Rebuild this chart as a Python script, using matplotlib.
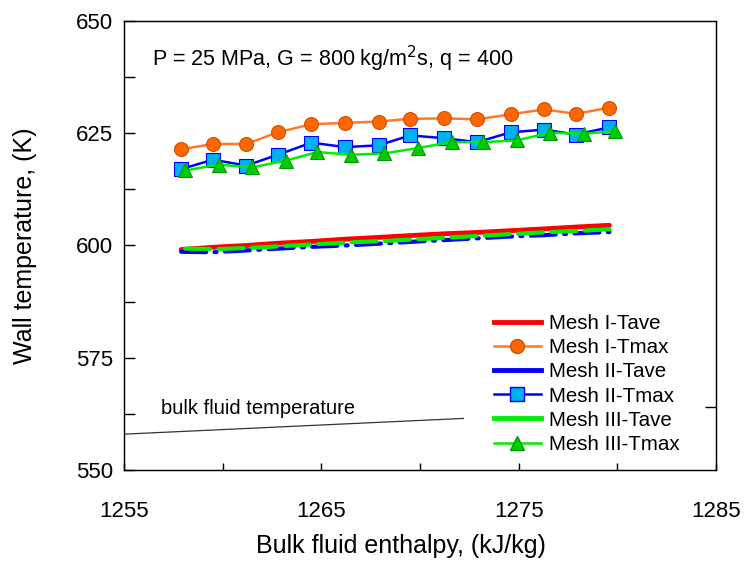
import matplotlib.pyplot as plt
from matplotlib.lines import Line2D
from matplotlib.ticker import MultipleLocator
import numpy as np

plt.rcParams['font.family'] = ['Liberation Sans', 'DejaVu Sans']

# enthalpy positions (kJ/kg)
h_circ = [1257.9, 1259.5, 1261.2, 1262.8, 1264.5, 1266.2, 1267.9, 1269.5, 1271.2, 1272.9, 1274.6, 1276.3, 1277.9, 1279.6]
h_tri = [1258.1, 1259.8, 1261.5, 1263.2, 1264.8, 1266.5, 1268.2, 1269.9, 1271.6, 1273.2, 1274.9, 1276.6, 1278.3, 1279.9]

# wall temperatures (K)
mesh1_tave = [599.1, 599.6, 600.0, 600.5, 600.9, 601.4, 601.8, 602.2, 602.6, 602.9, 603.3, 603.7, 604.1, 604.5]
mesh1_tmax = [621.4, 622.6, 622.6, 625.2, 627.0, 627.3, 627.6, 628.2, 628.3, 628.1, 629.2, 630.3, 629.3, 630.7]
mesh2_tave = [598.6, 598.5, 598.9, 599.3, 599.7, 600.0, 600.4, 600.8, 601.2, 601.6, 602.0, 602.3, 602.7, 603.0]
mesh2_tmax = [617.0, 619.1, 617.8, 620.2, 622.9, 621.9, 622.3, 624.5, 623.9, 623.0, 625.2, 625.8, 624.7, 626.3]
mesh3_tave = [599.3, 599.2, 599.5, 599.9, 600.3, 600.7, 601.0, 601.4, 601.8, 602.2, 602.6, 603.0, 603.3, 603.7]
mesh3_tmax = [616.7, 618.0, 617.4, 618.9, 620.8, 620.2, 620.5, 621.7, 623.0, 623.0, 623.4, 625.1, 624.9, 625.4]

bulk_h = [1255.0, 1272.2]
bulk_t = [558.0, 561.5]

fig = plt.figure(figsize=(7.45, 5.65), dpi=100)
ax = fig.add_axes([0.1664, 0.168, 0.7946, 0.795])

orange = '#FF7A28'
ax.plot(bulk_h, bulk_t, color='#333333', lw=0.9)
ax.plot(h_circ, mesh1_tave, color='#FF0000', lw=3.5, solid_capstyle='round')
ax.plot(h_circ, mesh2_tave, color='#0000FF', lw=3.0, dashes=(6, 2, 0.5, 2), dash_capstyle='round')
ax.plot(h_tri, mesh3_tave, color='#00EE00', lw=3.0, dashes=(6, 2), dash_capstyle='round')
ax.plot(h_circ, mesh1_tmax, color=orange, lw=1.8, marker='o', ms=10,
        mfc='#FF6600', mec='#CC5200', mew=0.8)
ax.plot(h_circ, mesh2_tmax, color='#0000FF', lw=1.8, marker='s', ms=9.5,
        mfc='#00B0F0', mec='#0000FF', mew=0.8)
ax.plot(h_tri, mesh3_tmax, color='#00EE00', lw=1.8, marker='^', ms=10.5,
        mfc='#00CC00', mec='#009900', mew=0.8)

ax.set_xlim(1255, 1285)
ax.set_ylim(550, 650)
ax.set_xticks([1255, 1265, 1275, 1285])
ax.xaxis.set_minor_locator(MultipleLocator(5))
ax.set_yticks([550, 575, 600, 625, 650])
ax.yaxis.set_minor_locator(MultipleLocator(12.5))
ax.tick_params(axis='x', which='both', direction='in', length=5, width=1, pad=22, labelsize=16)
ax.tick_params(axis='y', which='both', direction='in', length=8, width=1, pad=8, labelsize=16)
for s in ax.spines.values():
    s.set_linewidth(1.0)
    s.set_color('#222222')

ax2 = ax.twinx()
ax2.set_ylim(550, 650)
ax2.set_yticks([564])
ax2.set_yticklabels([])
ax2.tick_params(axis='y', direction='in', length=8, width=1)

ax.set_xlabel('Bulk fluid enthalpy, (kJ/kg)', fontsize=18)
ax.set_ylabel('Wall temperature, (K)', fontsize=18)
ax.xaxis.set_label_coords(0.468, -0.143)
ax.yaxis.set_label_coords(-0.147, 0.5)

ax.text(1256.4, 641.5, 'P = 25 MPa, G = 800 kg/m$^2$s, q = 400', fontsize=15.5, va='center')
ax.text(1256.9, 563.8, 'bulk fluid temperature', fontsize=14.5, va='center')

handles = [
    Line2D([], [], color='#FF0000', lw=3.5),
    Line2D([], [], color=orange, lw=1.8, marker='o', ms=10, mfc='#FF6600', mec='#CC5200'),
    Line2D([], [], color='#0000FF', lw=3.5),
    Line2D([], [], color='#0000FF', lw=1.8, marker='s', ms=9.5, mfc='#00B0F0', mec='#0000FF'),
    Line2D([], [], color='#00EE00', lw=3.5),
    Line2D([], [], color='#00EE00', lw=1.8, marker='^', ms=10.5, mfc='#00CC00', mec='#009900'),
]
labels = ['Mesh I-Tave', 'Mesh I-Tmax', 'Mesh II-Tave', 'Mesh II-Tmax', 'Mesh III-Tave', 'Mesh III-Tmax']
ax.legend(handles, labels, loc='lower right', bbox_to_anchor=(0.97, -0.005), frameon=False,
          fontsize=14.8, handlelength=2.3, labelspacing=0.25, handletextpad=0.4)

fig.savefig('out.png', dpi=100)
